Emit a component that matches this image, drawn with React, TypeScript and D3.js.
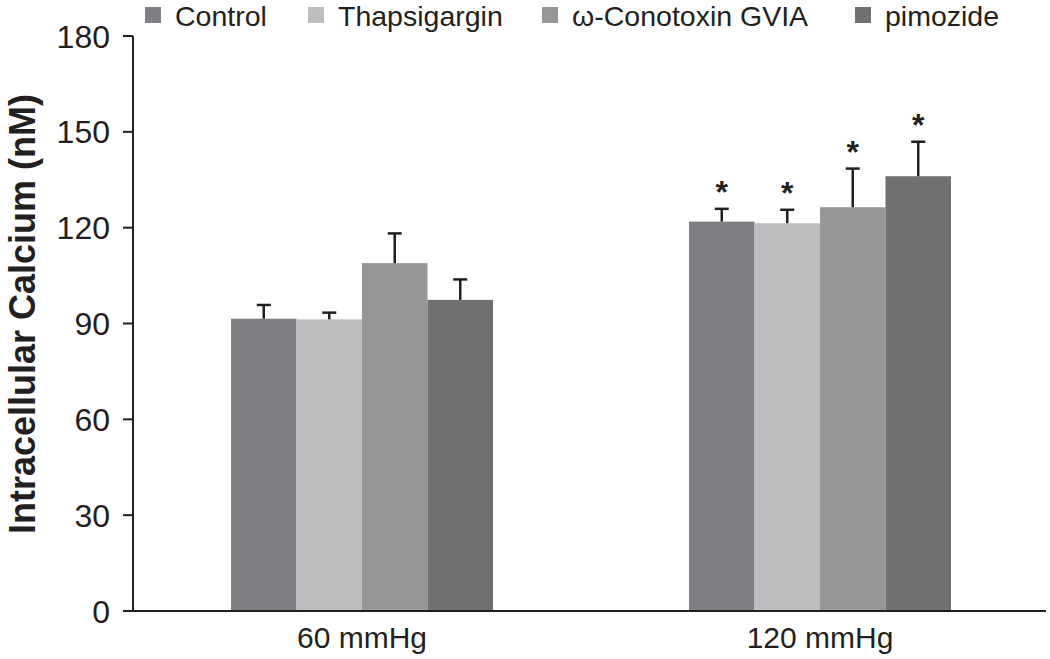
import React from "react";
import * as d3 from "d3";

const groups = ["60 mmHg", "120 mmHg"];
const seriesNames = ["Control", "Thapsigargin", "ω-Conotoxin GVIA", "pimozide"];
const seriesColors = ["#7e7f82", "#bdbec0", "#949698", "#6f7072"];
const means60 = [91.5, 91.3, 108.9, 97.4];
const errs60 = [4.3, 2.1, 9.3, 6.4];
const means120 = [121.9, 121.4, 126.4, 136.1];
const errs120 = [4.0, 4.2, 12.1, 10.8];
const sig120 = [true, true, true, true];
const yTicks = [0, 30, 60, 90, 120, 150, 180];

const W = 1050;
const H = 659;
const FONT = "'Liberation Sans', Arial, Helvetica, sans-serif";

export default function App() {
  const axisX = 133;
  const y = d3.scaleLinear().domain([0, 180]).range([611, 36]);
  const x0 = d3.scaleBand().domain(groups).range([133, 1049]).paddingInner(0.428).paddingOuter(0.214);
  const x1 = d3.scaleBand().domain(seriesNames).range([0, x0.bandwidth()]);
  const data = [
    { g: groups[0], means: means60, errs: errs60, sig: [false, false, false, false] },
    { g: groups[1], means: means120, errs: errs120, sig: sig120 },
  ];
  const legendX = [145, 308, 542, 855];
  return (
    <svg width={W} height={H} style={{ position: "absolute", left: 0, top: 0, background: "#fff" }} fontFamily={FONT}>
      {/* legend */}
      {seriesNames.map((s, i) => (
        <g key={s}>
          <rect x={legendX[i]} y={7} width={16} height={16} fill={seriesColors[i]} />
          <text x={legendX[i] + 30} y={26} fontSize={28.5} fill="#231f20">{s}</text>
        </g>
      ))}
      {/* bars */}
      {data.map((d) => (
        <g key={d.g} transform={`translate(${x0(d.g)},0)`}>
          {seriesNames.map((s, i) => {
            const bx = x1(s)!;
            const bw = x1.bandwidth();
            const top = y(d.means[i]);
            const et = y(d.means[i] + d.errs[i]);
            const cx = bx + bw / 2;
            return (
              <g key={s}>
                <rect x={bx} y={top} width={bw} height={y(0) - top} fill={seriesColors[i]} />
                <line x1={cx} x2={cx} y1={top} y2={et} stroke="#231f20" strokeWidth={2.5} />
                <line x1={cx - 7} x2={cx + 7} y1={et} y2={et} stroke="#231f20" strokeWidth={2.5} />
                {d.sig[i] && (
                  <text x={cx} y={et - 6} textAnchor="middle" fontSize={32} fontWeight="bold" fill="#231f20">*</text>
                )}
              </g>
            );
          })}
        </g>
      ))}
      {/* y axis */}
      <line x1={axisX} x2={axisX} y1={y(180)} y2={y(0) + 1} stroke="#231f20" strokeWidth={2} />
      {yTicks.map((t) => (
        <g key={t}>
          <line x1={axisX - 10} x2={axisX} y1={y(t)} y2={y(t)} stroke="#231f20" strokeWidth={2} />
          <text x={110} y={y(t)} dy="0.36em" textAnchor="end" fontSize={32} fill="#231f20">{t}</text>
        </g>
      ))}
      {/* x axis */}
      <line x1={axisX} x2={1046} y1={y(0)} y2={y(0)} stroke="#231f20" strokeWidth={2} />
      {groups.map((g) => (
        <text key={g} x={x0(g)! + x0.bandwidth() / 2} y={648} textAnchor="middle" fontSize={30} fill="#231f20">{g}</text>
      ))}
      {/* y title */}
      <text transform={`translate(35,314) rotate(-90)`} textAnchor="middle" fontSize={36} fontWeight="bold" fill="#231f20">
        Intracellular Calcium (nM)
      </text>
    </svg>
  );
}
